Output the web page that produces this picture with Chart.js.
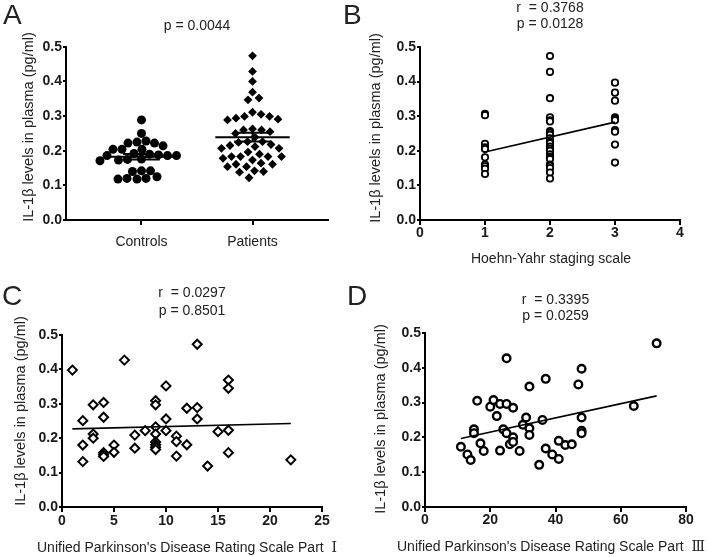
<!DOCTYPE html>
<html>
<head>
<meta charset="utf-8">
<script src="https://cdn.jsdelivr.net/npm/chart.js@4.4.0/dist/chart.umd.min.js"></script>
<style>
  body { margin: 0; background: #fff; }
  #fig { position: relative; width: 709px; height: 557px; background: #fff; font-family: "Liberation Sans", Arial, sans-serif; color: #222; overflow: hidden; }
  .panel { position: absolute; }
  .letter { position: absolute; font-size: 28px; line-height: 28px; }
</style>
</head>
<body>
<div id="fig">
  <div class="panel" style="left:0px;top:0px;width:354px;height:278px"><canvas id="chartA"></canvas></div>
  <div class="panel" style="left:354px;top:0px;width:355px;height:278px"><canvas id="chartB"></canvas></div>
  <div class="panel" style="left:0px;top:278px;width:354px;height:279px"><canvas id="chartC"></canvas></div>
  <div class="panel" style="left:354px;top:278px;width:355px;height:279px"><canvas id="chartD"></canvas></div>
  <div class="letter" style="left:3px;top:1px">A</div>
  <div class="letter" style="left:343px;top:1px">B</div>
  <div class="letter" style="left:2px;top:282px">C</div>
  <div class="letter" style="left:347px;top:282px">D</div>
</div>
<script>
const yTitle = "IL-1β levels in plasma (pg/ml)";
const yTicks = [0, 0.1, 0.2, 0.3, 0.4, 0.5];

// A: scatter dot plot
const groups = ["Controls", "Patients"];
const controls = [0.289, 0.250, 0.225, 0.222, 0.214, 0.222, 0.228, 0.204, 0.204, 0.204, 0.190, 0.186, 0.186, 0.186,
  0.188, 0.192, 0.173, 0.171, 0.175, 0.176, 0.142, 0.140, 0.142, 0.120, 0.118, 0.118, 0.120, 0.125];
const patients = [0.474, 0.429, 0.400, 0.369, 0.347, 0.352, 0.305, 0.299, 0.291, 0.289, 0.294, 0.299, 0.311, 0.260,
  0.255, 0.260, 0.263, 0.250, 0.239, 0.226, 0.224, 0.218, 0.226, 0.215, 0.207, 0.207, 0.212, 0.183, 0.173, 0.183,
  0.183, 0.183, 0.190, 0.196, 0.178, 0.161, 0.154, 0.154, 0.161, 0.164, 0.138, 0.142, 0.140, 0.122];

// B: Hoehn-Yahr stage
const hyStage = [1, 1, 1, 1, 1, 1, 1, 1, 1, 1,
  2, 2, 2, 2, 2, 2, 2, 2, 2, 2, 2, 2, 2, 2, 2, 2, 2, 2, 2, 2, 2, 2, 2, 2,
  3, 3, 3, 3, 3, 3, 3, 3, 3, 3];
const hyIL = [0.307, 0.303, 0.220, 0.210, 0.205, 0.181, 0.160, 0.155, 0.148, 0.133,
  0.474, 0.428, 0.352, 0.297, 0.288, 0.285, 0.257, 0.252, 0.246, 0.236, 0.226, 0.222, 0.212, 0.206, 0.200, 0.190,
  0.183, 0.180, 0.176, 0.160, 0.157, 0.150, 0.137, 0.120,
  0.397, 0.368, 0.345, 0.297, 0.292, 0.288, 0.260, 0.255, 0.218, 0.166];

// C: UPDRS part I
const updrs1 = [1, 2, 2, 2, 3, 3, 3, 4, 4, 4, 4, 4, 5, 5, 6, 7, 7, 8, 9, 9, 9, 9, 9, 9, 9, 9, 10, 10, 10,
  11, 11, 11, 12, 12, 13, 13, 13, 14, 15, 16, 16, 16, 16, 22];
const updrs1IL = [0.398, 0.251, 0.180, 0.132, 0.297, 0.212, 0.200, 0.304, 0.261, 0.158, 0.152, 0.147, 0.180, 0.159,
  0.427, 0.209, 0.171, 0.222, 0.309, 0.297, 0.233, 0.212, 0.189, 0.181, 0.174, 0.167, 0.352, 0.256, 0.222,
  0.206, 0.190, 0.148, 0.287, 0.181, 0.473, 0.289, 0.256, 0.119, 0.219, 0.369, 0.345, 0.223, 0.158, 0.137];

// D: UPDRS part III
const updrs3 = [11, 13, 14, 15, 15, 16, 17, 18, 20, 21, 22, 23, 23, 24, 25, 25, 25, 26, 27, 27, 27, 29, 30, 31,
  32, 32, 32, 35, 36, 37, 37, 39, 41, 41, 43, 45, 47, 48, 48, 48, 48, 64, 71];
const updrs3IL = [0.173, 0.151, 0.135, 0.223, 0.212, 0.305, 0.183, 0.161, 0.288, 0.307, 0.261, 0.296, 0.162, 0.223,
  0.427, 0.296, 0.212, 0.180, 0.285, 0.200, 0.187, 0.161, 0.236, 0.257, 0.346, 0.226, 0.207, 0.121, 0.250,
  0.368, 0.168, 0.151, 0.190, 0.138, 0.178, 0.180, 0.352, 0.397, 0.257, 0.219, 0.212, 0.290, 0.470];

const stats = {
  A: ["p = 0.0044"],
  B: ["r  = 0.3768", "p = 0.0128"],
  C: ["r  = 0.0297", "p = 0.8501"],
  D: ["r  = 0.3395", "p = 0.0259"]
};
const xTitles = {
  B: "Hoehn-Yahr staging scale",
  C: "Unified Parkinson's Disease Rating Scale Part  Ⅰ",
  D: "Unified Parkinson's Disease Rating Scale Part  Ⅲ"
};

const FAMILY = '"Liberation Sans", Arial, "Noto Sans CJK SC", sans-serif';
const TITLE_FAMILY = '"Liberation Sans", Arial, "DejaVu Serif", "Noto Sans CJK SC", sans-serif';
Chart.defaults.font.family = FAMILY;
Chart.defaults.color = '#222';
Chart.defaults.animation = false;

// axis titles drawn by hand so Chart.js does not squeeze them to the axis length
const axisText = {
  id: 'axisText',
  afterDraw(chart, args, o) {
    const ctx = chart.ctx;
    if (o.y) {
      ctx.save();
      ctx.fillStyle = '#222';
      ctx.font = '14.5px ' + FAMILY;
      ctx.translate(o.y.x, o.y.y);
      ctx.rotate(-Math.PI / 2);
      ctx.textAlign = 'center';
      ctx.textBaseline = 'middle';
      ctx.fillText(o.y.text, 0, 0);
      ctx.restore();
    }
    if (o.x) {
      ctx.save();
      ctx.fillStyle = '#222';
      ctx.font = '14px ' + TITLE_FAMILY;
      ctx.textAlign = 'center';
      ctx.textBaseline = 'alphabetic';
      ctx.fillText(o.x.text, o.x.x, o.x.y);
      ctx.restore();
    }
  }
};

function pts(xs, ys) { return xs.map((x, i) => ({ x: x, y: ys[i] })); }

function fit(xs, ys) {
  const n = xs.length;
  const mx = xs.reduce((a, b) => a + b, 0) / n;
  const my = ys.reduce((a, b) => a + b, 0) / n;
  let sxy = 0, sxx = 0;
  for (let i = 0; i < n; i++) { sxy += (xs[i] - mx) * (ys[i] - my); sxx += (xs[i] - mx) ** 2; }
  const b = sxy / sxx, a = my - b * mx;
  const x0 = Math.min(...xs), x1 = Math.max(...xs);
  return [{ x: x0, y: a + b * x0 }, { x: x1, y: a + b * x1 }];
}

// simple beeswarm: spread points sideways (in px) so they barely overlap
function swarm(values, center, diam, pxX, pxY) {
  const order = values.map((v, i) => i).sort((a, b) => values[b] - values[a]);
  const placed = [];
  const xs = [];
  order.forEach(i => {
    const y = values[i] * pxY;
    let off = 0;
    for (let k = 0; k < 600; k++) {
      const o = (k % 2 ? 1 : -1) * Math.ceil(k / 2) * 0.5;
      if (placed.every(p => (p.x - o) ** 2 + (p.y - y) ** 2 >= diam * diam)) { off = o; break; }
    }
    placed.push({ x: off, y: y });
    xs[i] = center + off / pxX;
  });
  return xs;
}

function meanSem(values, center, half, cap) {
  const n = values.length;
  const m = values.reduce((a, b) => a + b, 0) / n;
  const sd = Math.sqrt(values.reduce((a, b) => a + (b - m) ** 2, 0) / (n - 1));
  const se = sd / Math.sqrt(n);
  const seg = d => ({ type: 'line', data: d, borderColor: '#000', borderWidth: 2, pointRadius: 0, fill: false, showLine: true });
  return [
    seg([{ x: center - half, y: m }, { x: center + half, y: m }]),
    seg([{ x: center, y: m - se }, { x: center, y: m + se }]),
    seg([{ x: center - cap, y: m + se }, { x: center + cap, y: m + se }]),
    seg([{ x: center - cap, y: m - se }, { x: center + cap, y: m - se }])
  ];
}

function yAxis(width) {
  return {
    min: 0, max: 0.5,
    afterBuildTicks: s => { s.ticks = yTicks.map(v => ({ value: v })); },
    border: { color: '#000', width: 2 },
    grid: { drawOnChartArea: false, color: '#000', lineWidth: 2, tickLength: 3 },
    ticks: { padding: 1, color: '#1a1a1a', font: { size: 14, weight: 'bold' }, callback: v => v.toFixed(1) },
    afterFit: s => { s.width = width; }
  };
}

function xAxis(o) {
  return {
    type: 'linear', min: o.min, max: o.max,
    border: { color: '#000', width: 2 },
    grid: { drawOnChartArea: false, color: '#000', lineWidth: 2, tickLength: 5 },
    ticks: { stepSize: o.step, padding: o.tickPad, color: '#1a1a1a', font: { size: 14, weight: 'bold' }, maxRotation: 0, autoSkip: false },
    afterFit: s => { s.height = o.height; }
  };
}

function makeChart(id, o) {
  return new Chart(document.getElementById(id), {
    type: 'scatter',
    data: { datasets: o.datasets },
    plugins: [axisText],
    options: {
      responsive: true, maintainAspectRatio: false,
      layout: { padding: { left: 0, right: o.right, top: 0, bottom: 0 } },
      plugins: {
        legend: { display: false }, tooltip: { enabled: false },
        title: { display: true, text: o.stat, fullSize: false, color: '#222',
          font: { size: 14, weight: 'normal', lineHeight: o.statLH }, padding: { top: o.statTop, bottom: o.statBottom } },
        axisText: o.text
      },
      scales: { x: o.x, y: o.y }
    }
  });
}

// ---- Panel A ----
const pxA = 111, pyA = 346;
const xCtrl = swarm(controls, 1, 8.6, pxA, pyA);
const xPat = swarm(patients, 2, 8.6, pxA, pyA);
const axA = xAxis({ min: 0.32, max: 2.68, step: 1, tickPad: 8.5, height: 58 });
axA.afterBuildTicks = s => { s.ticks = [{ value: 1 }, { value: 2 }]; };
axA.ticks.font = { size: 14, weight: 'normal' };
axA.ticks.color = '#222';
axA.ticks.callback = v => groups[v - 1];
makeChart('chartA', {
  right: 26, stat: stats.A, statLH: 1.2, statTop: 18, statBottom: 12,
  x: axA, y: yAxis(66),
  text: { y: { text: yTitle, x: 29, y: 127 } },
  datasets: [
    ...meanSem(controls, 1, 0.335, 0.165),
    ...meanSem(patients, 2, 0.335, 0.165),
    { data: pts(xCtrl, controls), pointStyle: 'circle', pointRadius: 4.5, pointBackgroundColor: '#000', pointBorderWidth: 0 },
    { data: pts(xPat, patients), pointStyle: 'rectRot', pointRadius: 4.4, pointBackgroundColor: '#000', pointBorderWidth: 0 }
  ]
});

// ---- Panel B ----
makeChart('chartB', {
  right: 29, stat: stats.B, statLH: 1.15, statTop: 0, statBottom: 14.8,
  x: xAxis({ min: 0, max: 4, step: 1, tickPad: 0, height: 58 }),
  y: yAxis(66),
  text: { y: { text: yTitle, x: 22, y: 128 }, x: { text: xTitles.B, x: 197, y: 263 } },
  datasets: [
    { type: 'line', data: fit(hyStage, hyIL), borderColor: '#000', borderWidth: 1.6, pointRadius: 0, showLine: true, fill: false },
    { data: pts(hyStage, hyIL), pointStyle: 'circle', pointRadius: 3.2, pointBackgroundColor: '#fff', pointBorderColor: '#000', pointBorderWidth: 1.8 }
  ]
});

// ---- Panel C ----
makeChart('chartC', {
  right: 32, stat: stats.C, statLH: 1.3, statTop: 6, statBottom: 14.6,
  x: xAxis({ min: 0, max: 25, step: 5, tickPad: 1, height: 50 }),
  y: yAxis(62),
  text: { y: { text: yTitle, x: 21, y: 133 }, x: { text: xTitles.C, x: 187, y: 274 } },
  datasets: [
    { type: 'line', data: fit(updrs1, updrs1IL), borderColor: '#000', borderWidth: 1.6, pointRadius: 0, showLine: true, fill: false },
    { data: pts(updrs1, updrs1IL), pointStyle: 'rectRot', pointRadius: 4.5, pointBackgroundColor: '#fff', pointBorderColor: '#000', pointBorderWidth: 2 }
  ]
});

// ---- Panel D ----
makeChart('chartD', {
  right: 23, stat: stats.D, statLH: 1.2, statTop: 13.3, statBottom: 8,
  x: xAxis({ min: 0, max: 80, step: 20, tickPad: 0, height: 50 }),
  y: yAxis(71),
  text: { y: { text: yTitle, x: 27, y: 141 }, x: { text: xTitles.D, x: 197, y: 273 } },
  datasets: [
    { type: 'line', data: fit(updrs3, updrs3IL), borderColor: '#000', borderWidth: 1.6, pointRadius: 0, showLine: true, fill: false },
    { data: pts(updrs3, updrs3IL), pointStyle: 'circle', pointRadius: 3.8, pointBackgroundColor: '#fff', pointBorderColor: '#000', pointBorderWidth: 2.4 }
  ]
});
</script>
</body>
</html>
